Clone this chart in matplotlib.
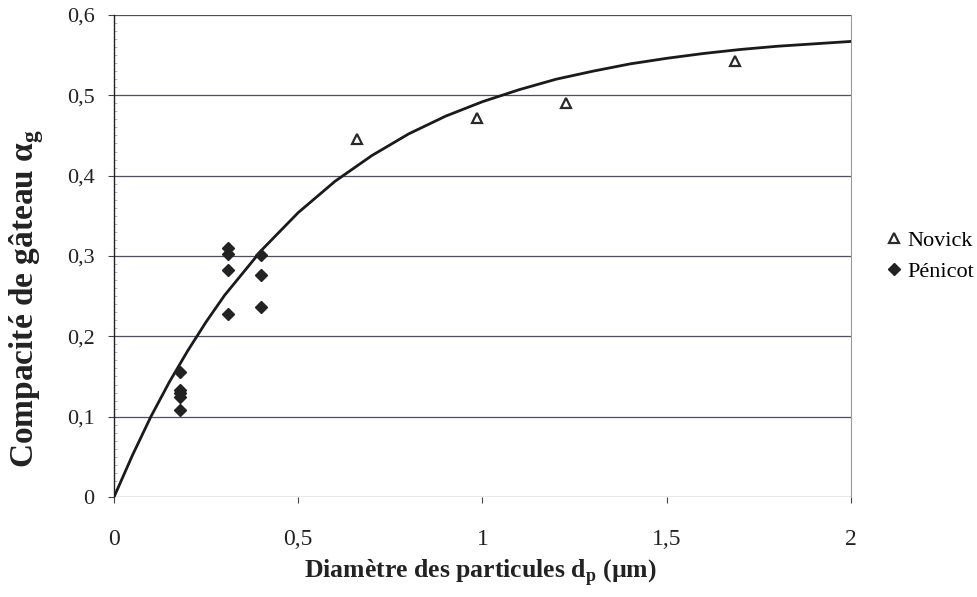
import numpy as np
import matplotlib.pyplot as plt
from matplotlib.ticker import MultipleLocator

# === Data ===
# model curve
curve_x = [0, 0.05, 0.1, 0.15, 0.2, 0.25, 0.3, 0.4, 0.5, 0.6, 0.7, 0.8, 0.9,
           1.0, 1.1, 1.2, 1.3, 1.4, 1.5, 1.6, 1.7, 1.8, 1.9, 2.0]
curve_y = [0, 0.052, 0.100, 0.143, 0.182, 0.218, 0.251, 0.307, 0.354, 0.393,
           0.425, 0.452, 0.474, 0.492, 0.507, 0.520, 0.530, 0.539, 0.546,
           0.552, 0.557, 0.561, 0.564, 0.567]

# Novick
novick_x = [0.66, 0.985, 1.227, 1.685]
novick_y = [0.445, 0.472, 0.491, 0.543]

# Pénicot
penicot_x = [0.18, 0.18, 0.18, 0.18, 0.18,
             0.31, 0.31, 0.31, 0.31,
             0.40, 0.40, 0.40]
penicot_y = [0.155, 0.133, 0.129, 0.125, 0.108,
             0.310, 0.303, 0.283, 0.228,
             0.301, 0.276, 0.237]

xticks = [0, 0.5, 1, 1.5, 2]
xticklabels = ["0", "0,5", "1", "1,5", "2"]
yticks = [0, 0.1, 0.2, 0.3, 0.4, 0.5, 0.6]
yticklabels = ["0", "0,1", "0,2", "0,3", "0,4", "0,5", "0,6"]

# === Plot ===
plt.rcParams['font.family'] = ['Liberation Serif', 'DejaVu Serif']

fig = plt.figure(figsize=(9.78, 5.97), dpi=100)
ax = fig.add_axes([0.1166, 0.1675, 0.7534, 0.8075])

for yv in yticks:
    ax.axhline(yv, color='#4e4e60', lw=0.9, zorder=1)

ax.plot(curve_x, curve_y, color='#1a1a1a', lw=2.0, zorder=3)
ax.plot(novick_x, novick_y, ls='none', marker='^', ms=7, mfc='white',
        mec='#2a2a2a', mew=1.6, label='Novick', zorder=4)
ax.plot(penicot_x, penicot_y, ls='none', marker='D', ms=6.5, color='#222222',
        label='Pénicot', zorder=4)

ax.set_xlim(0, 2)
ax.set_ylim(0, 0.6)
ax.set_xticks(xticks)
ax.set_xticklabels(xticklabels)
ax.set_yticks(yticks)
ax.set_yticklabels(yticklabels)
ax.yaxis.set_minor_locator(MultipleLocator(0.01))
ax.tick_params(axis='x', labelsize=17, length=4, width=0.8, colors='#444444',
               labelcolor='#222222', pad=19)
ax.tick_params(axis='y', labelsize=16, length=4, width=0.8, colors='#444444',
               labelcolor='#222222', pad=10)
ax.tick_params(axis='y', which='minor', direction='in', length=2.5,
               width=0.6, colors='#aaaaaa')

for s in ['top', 'bottom']:
    ax.spines[s].set_visible(False)
ax.spines['left'].set_color('#222222')
ax.spines['left'].set_linewidth(1.0)
ax.spines['right'].set_color('#999999')
ax.spines['right'].set_linewidth(0.8)

ax.set_xlabel("Diamètre des particules d$_\\mathregular{p}$ (µm)",
              fontsize=18.5, fontweight='bold', color='#222222', va='center')
ax.xaxis.set_label_coords(0.4966, -0.1556)
ax.set_ylabel("Compacité de gâteau α$_\\mathregular{g}$",
              fontsize=24, fontweight='bold', color='#222222', va='center')
ax.yaxis.set_label_coords(-0.118, 0.413)

fig.legend(loc='center left', bbox_to_anchor=(0.907, 0.571), frameon=False,
           fontsize=16, handlelength=0.6, handletextpad=0.3, labelspacing=0.44,
           borderpad=0, borderaxespad=0)

fig.savefig("out.png", dpi=100)
